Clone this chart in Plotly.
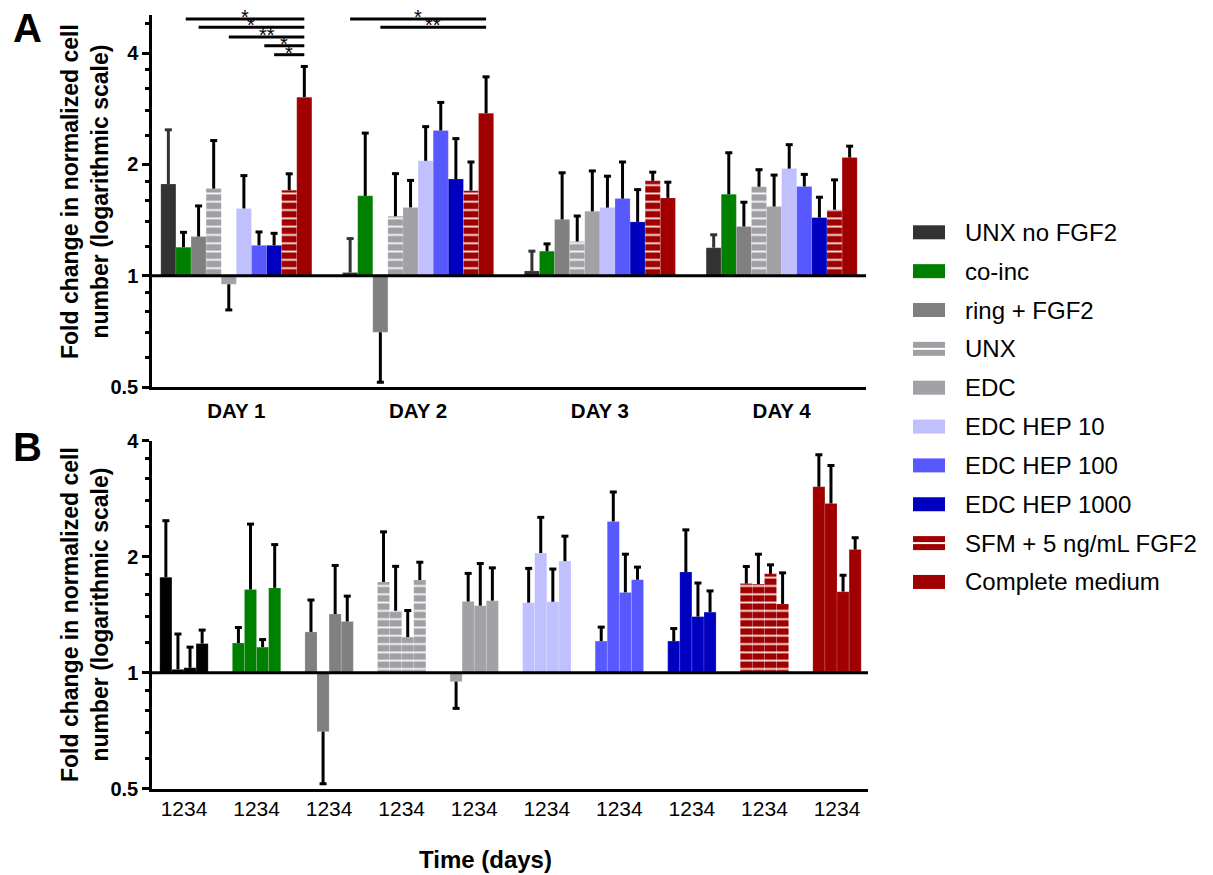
import math
import plotly.graph_objects as go

W, H = 1213, 875
FONT = "Arial, Liberation Sans, sans-serif"

# ---- data -----------------------------------------------------------------
series_names = ["UNX no FGF2", "co-inc", "ring + FGF2", "UNX", "EDC",
                "EDC HEP 10", "EDC HEP 100", "EDC HEP 1000",
                "SFM + 5 ng/mL FGF2", "Complete medium"]
day_labels = ["DAY 1", "DAY 2", "DAY 3", "DAY 4"]
group_tick_label = "1234"

# mean fold change for days 1-4 and the length of each error bar
unx_no_fgf2 = [1.77, 1.02, 1.03, 1.19]
unx_no_fgf2_err = [0.71, 0.24, 0.135, 0.10]
co_inc = [1.194, 1.644, 1.165, 1.66]
co_inc_err = [0.116, 0.786, 0.054, 0.49]
ring_fgf2 = [1.276, 0.703, 1.42, 1.358]
ring_fgf2_err = [0.268, 0.188, 0.478, 0.222]
unx = [1.72, 1.448, 1.237, 1.74]
unx_err = [0.60, 0.44, 0.213, 0.195]
edc = [0.948, 1.53, 1.493, 1.538]
edc_err = [0.14, 0.28, 0.427, 0.333]
edc_hep10 = [1.52, 2.045, 1.528, 1.948]
edc_hep10_err = [0.345, 0.485, 0.33, 0.313]
edc_hep100 = [1.208, 2.47, 1.616, 1.743]
edc_hep100_err = [0.105, 0.472, 0.414, 0.136]
edc_hep1000 = [1.208, 1.825, 1.398, 1.436]
edc_hep1000_err = [0.094, 0.523, 0.311, 0.194]
sfm_fgf2 = [1.703, 1.698, 1.805, 1.508]
sfm_fgf2_err = [0.183, 0.332, 0.10, 0.308]
complete_medium = [3.04, 2.75, 1.623, 2.087]
complete_medium_err = [0.64, 0.70, 0.167, 0.153]

# significance brackets on panel A: (day, from bar, to bar, label)
brackets = [(0, 1.15, 9, "*"), (0, 2, 9, "*"), (0, 4, 9, "**"),
            (0, 6.35, 9, "*"), (0, 7, 9, "*"),
            (1, 0, 9, "*"), (1, 2, 9, "**")]

means = [unx_no_fgf2, co_inc, ring_fgf2, unx, edc, edc_hep10, edc_hep100,
         edc_hep1000, sfm_fgf2, complete_medium]
errors = [unx_no_fgf2_err, co_inc_err, ring_fgf2_err, unx_err, edc_err,
          edc_hep10_err, edc_hep100_err, edc_hep1000_err, sfm_fgf2_err,
          complete_medium_err]

# ---- styling --------------------------------------------------------------
colors_a = ["#333333", "#008000", "#808080", "#a0a0a4", "#a2a2a6",
            "#c0c0ff", "#5858ff", "#0000c0", "#a00000", "#a00000"]
colors_b = ["#000000"] + colors_a[1:]
err_colors_a = ["#333333"] + ["#000000"] * 9
striped = [False, False, False, True, False, False, False, False, True, False]

# pixel layout of the two panels
AX_L = 152
A_TOP, A_BOT, A_R = 15, 387, 866
B_TOP, B_BOT, B_R = 440.7, 788.7, 868
A_RANGE = [-0.464, 3.464]
B_RANGE = [-0.441, 9.427]
A_YMAX, B_YMAX = 5.07, 4.0
BW_A = 0.0831          # bar width, panel A (day units)
BW_B = 1 / 6           # bar width, panel B (group units)
CAP_PX = 3.5
A_PPU = (A_R - AX_L) / (A_RANGE[1] - A_RANGE[0])
B_PPU = (B_R - AX_L) / (B_RANGE[1] - B_RANGE[0])


def px(x):
    return x / W


def py(y):
    return 1 - y / H


def bar_marker(color, stripe):
    m = dict(color=color, line=dict(width=0.5, color="rgba(255,255,255,0.3)"))
    if stripe:
        m["pattern"] = dict(shape="-", fgcolor="white", fgopacity=0.9,
                            size=8.3, solidity=0.22, fillmode="overlay")
    return m


def error_path(xs, vals, errs, cap):
    ex, ey = [], []
    for x, v, e in zip(xs, vals, errs):
        end = v + e if v >= 1 else v - e
        ex += [x, x, None, x - cap, x + cap, None]
        ey += [v, end, None, end, end, None]
    return ex, ey


fig = go.Figure()

# panel A: bars grouped by day
for i, name in enumerate(series_names):
    xs = [d + (i - 4.5) * BW_A for d in range(4)]
    vals = means[i]
    fig.add_trace(go.Bar(
        x=xs, y=[v - 1 for v in vals], base=1, width=BW_A,
        marker=bar_marker(colors_a[i], striped[i]), name=name,
        showlegend=False, hoverinfo="skip", xaxis="x", yaxis="y"))

for i, name in enumerate(series_names):
    xs = [d + (i - 4.5) * BW_A for d in range(4)]
    ex, ey = error_path(xs, means[i], errors[i], CAP_PX / A_PPU)
    fig.add_trace(go.Scatter(
        x=ex, y=ey, mode="lines", line=dict(color=err_colors_a[i], width=3),
        showlegend=False, hoverinfo="skip", xaxis="x", yaxis="y"))

# panel B: bars grouped by treatment, one bar per day
for i, name in enumerate(series_names):
    xs = [i + (d - 1.5) * BW_B for d in range(4)]
    vals = means[i]
    fig.add_trace(go.Bar(
        x=xs, y=[v - 1 for v in vals], base=1, width=BW_B,
        marker=bar_marker(colors_b[i], striped[i]), name=name,
        showlegend=False, hoverinfo="skip", xaxis="x2", yaxis="y2"))

for i, name in enumerate(series_names):
    xs = [i + (d - 1.5) * BW_B for d in range(4)]
    ex, ey = error_path(xs, means[i], errors[i], CAP_PX / B_PPU)
    fig.add_trace(go.Scatter(
        x=ex, y=ey, mode="lines", line=dict(color="#000000", width=3),
        showlegend=False, hoverinfo="skip", xaxis="x2", yaxis="y2"))

# ---- axes -----------------------------------------------------------------
minor_vals = [0.6, 0.7, 0.8, 0.9, 1.2, 1.4, 1.6, 1.8, 2.4, 2.8, 3.2, 3.6, 4.8]


def y_axis(domain, ymax, anchor):
    return dict(
        type="log", range=[math.log10(0.5), math.log10(ymax)], domain=domain,
        anchor=anchor, automargin=False,
        tickvals=[0.5, 1, 2, 4], ticktext=["0.5", "1", "2", "4"],
        ticks="outside", ticklen=7, tickwidth=2.5, tickcolor="black",
        showline=True, linewidth=2.5, linecolor="black", showgrid=False,
        zeroline=False, tickfont=dict(family=FONT, size=20, color="black",
                                      weight="bold"),
        minor=dict(tickmode="array", tickvals=[v for v in minor_vals if v < ymax],
                   ticks="outside", ticklen=4.5, tickwidth=2.5,
                   tickcolor="black", showgrid=False))


fig.update_layout(
    width=W, height=H, margin=dict(l=0, r=0, t=0, b=0, pad=0),
    paper_bgcolor="white", plot_bgcolor="white", barmode="overlay",
    showlegend=False,
    xaxis=dict(domain=[px(AX_L), px(A_R)], range=A_RANGE, anchor="y",
               automargin=False,
               tickvals=[0, 1, 2, 3], ticktext=day_labels, ticks="",
               showline=True, linewidth=2.5, linecolor="black",
               showgrid=False, zeroline=False, ticklabelstandoff=4,
               tickfont=dict(family=FONT, size=20.5, color="black",
                             weight="bold")),
    yaxis=y_axis([py(A_BOT), py(A_TOP)], A_YMAX, "x"),
    xaxis2=dict(domain=[px(AX_L), px(B_R)], range=B_RANGE, anchor="y2",
                automargin=False,
                tickvals=list(range(10)), ticktext=[group_tick_label] * 10,
                ticks="", showline=True, linewidth=2.5, linecolor="black",
                showgrid=False, zeroline=False, ticklabelstandoff=-1,
                tickfont=dict(family=FONT, size=21, color="black")),
    yaxis2=y_axis([py(B_BOT), py(B_TOP)], B_YMAX, "x2"),
)

shapes = []
annotations = []

# reference line at a fold change of 1
for yref, ymax in (("y domain", A_YMAX), ("y2 domain", B_YMAX)):
    lo, hi = math.log10(0.5), math.log10(ymax)
    frac = (0 - lo) / (hi - lo)
    shapes.append(dict(type="line", xref=yref.replace("y", "x"), yref=yref,
                       x0=0, x1=1, y0=frac, y1=frac,
                       line=dict(color="black", width=3)))

# significance brackets
bracket_rows_px = {0: [19, 27.3, 37, 45.7, 54.7], 1: [19, 27.3]}
row_counter = {0: 0, 1: 0}
for day, b0, b1, label in brackets:
    ypx = bracket_rows_px[day][row_counter[day]]
    row_counter[day] += 1
    x0 = day + (b0 - 4.5) * BW_A
    x1 = day + (b1 - 4.5) * BW_A
    shapes.append(dict(type="line", xref="x", yref="paper", x0=x0, x1=x1,
                       y0=py(ypx), y1=py(ypx),
                       line=dict(color="black", width=3)))
    annotations.append(dict(x=(x0 + x1) / 2, xref="x", y=py(ypx - 2),
                            yref="paper", text=label, showarrow=False,
                            xanchor="center", yanchor="middle",
                            font=dict(family=FONT, size=20, color="black")))

# legend
for k, name in enumerate(series_names):
    yc = 232.3 + 38.85 * k
    shapes.append(dict(type="rect", xref="paper", yref="paper",
                       x0=px(913), x1=px(945), y0=py(yc + 7), y1=py(yc - 7),
                       fillcolor=colors_a[k], line=dict(width=0)))
    if striped[k]:
        shapes.append(dict(type="line", xref="paper", yref="paper",
                           x0=px(913), x1=px(945), y0=py(yc), y1=py(yc),
                           line=dict(color="white", width=2)))
    annotations.append(dict(x=px(963), y=py(yc), xref="paper", yref="paper",
                            text=name, showarrow=False, xanchor="left",
                            yanchor="middle",
                            font=dict(family=FONT, size=24, color="black")))

# panel letters, axis titles
for letter, ypx in (("A", 28), ("B", 447)):
    annotations.append(dict(x=px(27), y=py(ypx), xref="paper", yref="paper",
                            text=letter, showarrow=False, xanchor="center",
                            yanchor="middle",
                            font=dict(family=FONT, size=40, color="black",
                                      weight="bold")))
ytitle = "Fold change in normalized cell<br>number (logarithmic scale)"
for ypx in (192, 615):
    annotations.append(dict(x=px(85), y=py(ypx), xref="paper", yref="paper",
                            text=ytitle, showarrow=False, textangle=-90,
                            xanchor="center", yanchor="middle",
                            font=dict(family=FONT, size=23, color="black",
                                      weight="bold")))
annotations.append(dict(x=px(485), y=py(859), xref="paper", yref="paper",
                        text="Time (days)", showarrow=False, xanchor="center",
                        yanchor="middle",
                        font=dict(family=FONT, size=24, color="black",
                                  weight="bold")))

fig.update_layout(shapes=shapes, annotations=annotations)

# the figure fills the whole page, so drop the default body margin
fig.write_html("out.html",
               post_script="document.body.style.margin='0';"
                           "document.body.style.padding='0';")
